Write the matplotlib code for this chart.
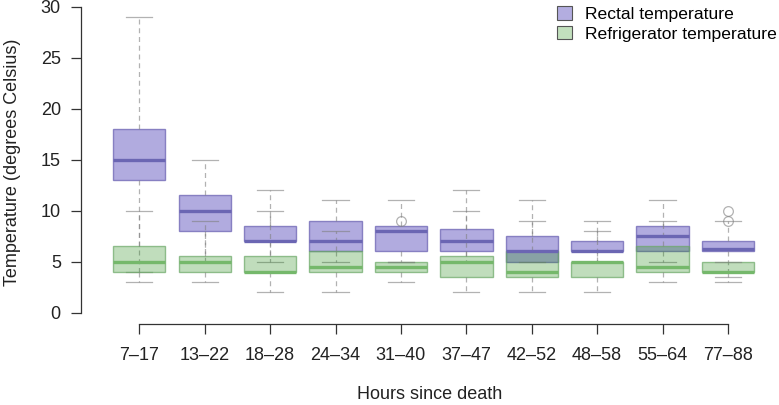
import matplotlib
matplotlib.use("Agg")
import matplotlib.pyplot as plt
from matplotlib.patches import Patch

plt.rcParams['font.family'] = ['Liberation Sans', 'DejaVu Sans']

categories = ["7\u201317", "13\u201322", "18\u201328", "24\u201334", "31\u201340",
              "37\u201347", "42\u201352", "48\u201358", "55\u201364", "77\u201388"]

rectal_lo  = [4, 5, 5, 5, 5, 5, 5, 5, 5, 3.5]
rectal_q1  = [13, 8, 7, 6, 6, 6, 5, 6, 6, 6]
rectal_med = [15, 10, 7, 7, 8, 7, 6, 6, 7.5, 6.25]
rectal_q3  = [18, 11.5, 8.5, 9, 8.5, 8.2, 7.5, 7, 8.5, 7]
rectal_hi  = [29, 15, 12, 11, 11, 12, 11, 9, 11, 9]
rectal_out = [[], [], [], [], [], [], [], [], [], [10]]

fridge_lo  = [3, 3, 2, 2, 3, 2, 2, 2, 3, 3]
fridge_q1  = [4, 4, 4, 4, 4, 3.5, 3.5, 3.5, 4, 4]
fridge_med = [5, 5, 4, 4.5, 4.5, 5, 4, 5, 4.5, 4]
fridge_q3  = [6.5, 5.5, 5.5, 6, 5, 5.5, 6, 5, 6.5, 5]
fridge_hi  = [10, 9, 10, 8, 5, 10, 9, 8, 9, 5]
fridge_out = [[], [], [], [], [9], [], [], [], [], [9]]

yticks = [0, 5, 10, 15, 20, 25, 30]


def stats(lo, q1, med, q3, hi, out):
    return [dict(whislo=a, q1=b, med=c, q3=d, whishi=e, fliers=f)
            for a, b, c, d, e, f in zip(lo, q1, med, q3, hi, out)]


W, H = 779, 405
fig = plt.figure(figsize=(W / 100, H / 100), dpi=100)
ax = fig.add_axes([81 / W, 1 - 324 / H, (W - 81) / W, 324 / H])

positions = list(range(1, len(categories) + 1))

series = [
    (stats(rectal_lo, rectal_q1, rectal_med, rectal_q3, rectal_hi, rectal_out),
     (0.28, 0.22, 0.70, 0.42), (0.45, 0.42, 0.72, 0.8), (0.42, 0.40, 0.70, 1.0)),
    (stats(fridge_lo, fridge_q1, fridge_med, fridge_q3, fridge_hi, fridge_out),
     (0.15, 0.55, 0.10, 0.29), (0.42, 0.66, 0.40, 0.7), (0.46, 0.72, 0.42, 1.0)),
]

for st, face, edge, medc in series:
    ax.bxp(st, positions=positions, widths=0.8, patch_artist=True,
           showfliers=True, capwidths=0.4,
           boxprops=dict(facecolor=face, edgecolor=edge, linewidth=1.0),
           medianprops=dict(color=medc, linewidth=2.4, solid_capstyle='butt'),
           whiskerprops=dict(color=(0.5, 0.5, 0.5, 0.6), linewidth=0.9,
                             linestyle=(0, (4, 3))),
           capprops=dict(color=(0.5, 0.5, 0.5, 0.6), linewidth=0.9),
           flierprops=dict(marker='o', markersize=7, markerfacecolor='none',
                           markeredgecolor=(0.5, 0.5, 0.5, 0.6),
                           markeredgewidth=0.9))

ax.set_xlim(0.109, 10.78)
ax.set_ylim(-1.12, 30.65)

for s in ['top', 'right']:
    ax.spines[s].set_visible(False)
ax.spines['left'].set_bounds(0, 30)
ax.spines['bottom'].set_bounds(1, 10)
for s in ['left', 'bottom']:
    ax.spines[s].set_color('#333333')
    ax.spines[s].set_linewidth(0.9)

ax.set_xticks(positions)
ax.set_xticklabels(categories)
ax.set_yticks(yticks)
ax.set_yticklabels([str(v) for v in yticks])
ax.tick_params(axis='both', direction='out', length=7.5, width=0.9,
               color='#333333', labelsize=13, labelcolor='#222222')
ax.tick_params(axis='x', pad=9)
ax.tick_params(axis='y', pad=7)

ax.set_xlabel("Hours since death", fontsize=13, color='#222222', labelpad=16)
ax.set_ylabel("Temperature (degrees Celsius)", fontsize=13, color='#222222',
              labelpad=14)

handles = [Patch(facecolor=(0.70, 0.68, 0.88), edgecolor='#555555', linewidth=0.8,
                 label="Rectal temperature"),
           Patch(facecolor=(0.76, 0.88, 0.74), edgecolor='#555555', linewidth=0.8,
                 label="Refrigerator temperature")]
fig.legend(handles=handles, loc='upper left',
           bbox_to_anchor=(557 / W, 1 - 6 / H), frameon=False, fontsize=12.6,
           handlelength=0.85, handleheight=0.85, handletextpad=0.75,
           labelspacing=0.2, borderpad=0, borderaxespad=0)

fig.savefig("out.png", dpi=100)
